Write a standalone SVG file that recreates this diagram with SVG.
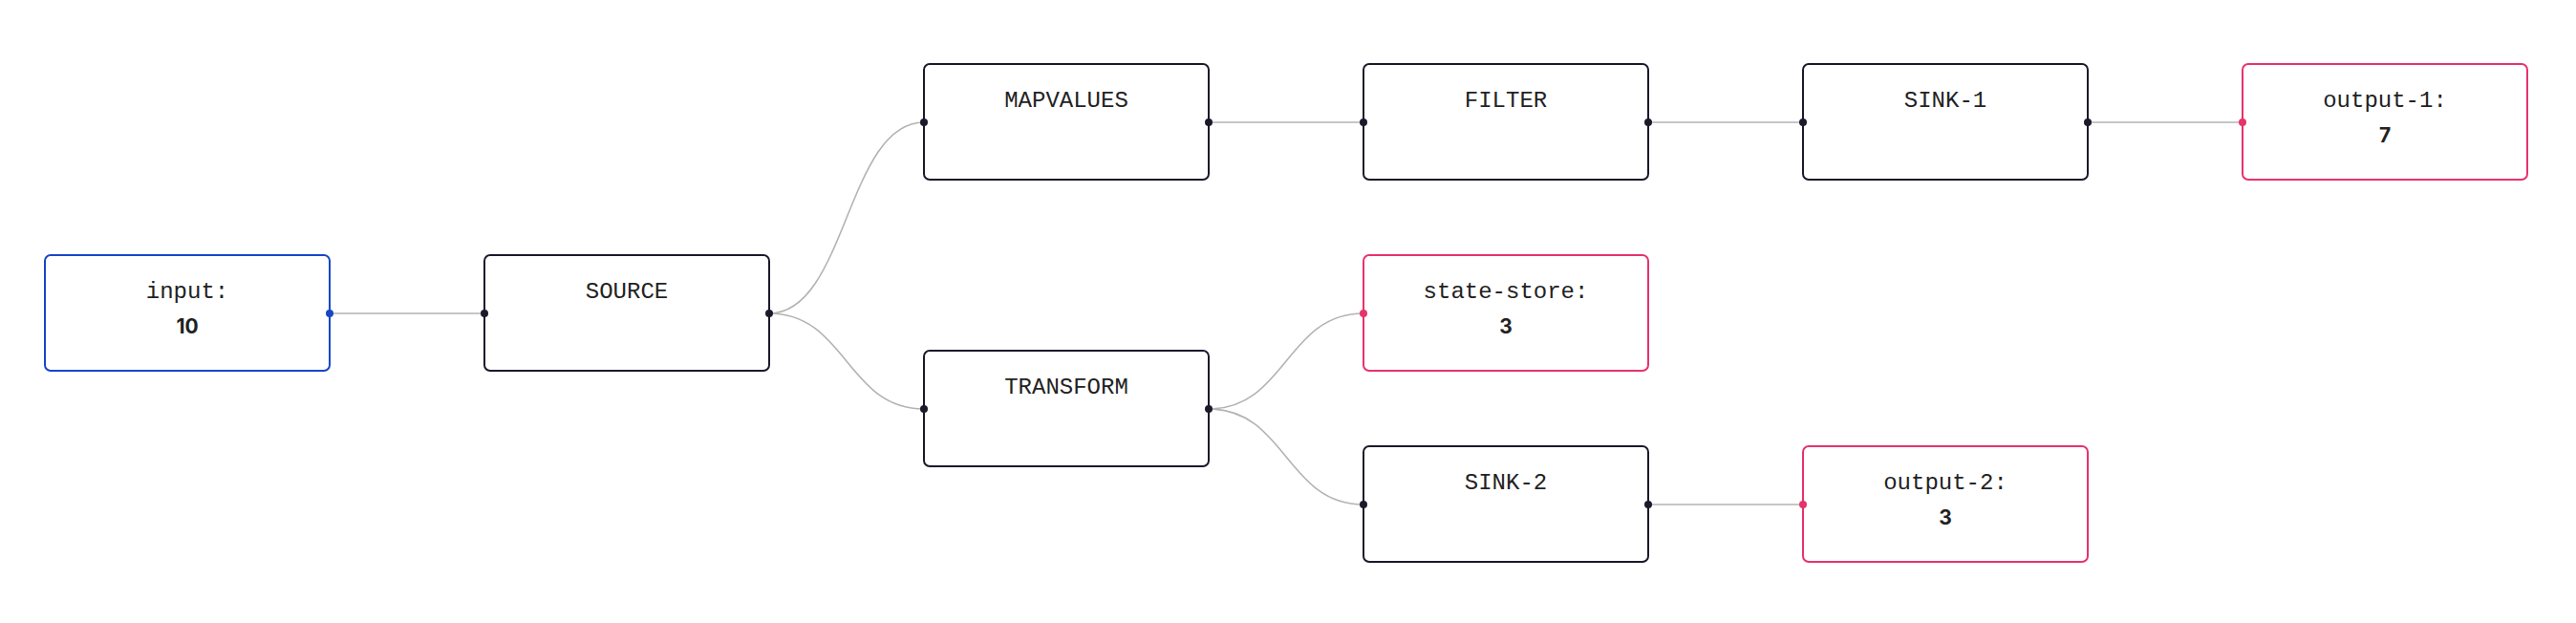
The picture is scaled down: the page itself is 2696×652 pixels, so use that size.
<svg xmlns="http://www.w3.org/2000/svg" width="2696" height="652" viewBox="0 0 2696 652">
<style>
.box{fill:#ffffff;stroke-width:2}
.proc{stroke:#1b1a2b}
.in{stroke:#1746c7}
.out{stroke:#e6336c}
.title{font-family:"Liberation Mono",monospace;font-size:24px;fill:#222222;text-anchor:middle}
.val{font-family:Inter,"Liberation Sans",sans-serif;font-size:21px;font-weight:700;fill:#222222;text-anchor:middle}
.edge{fill:none;stroke:#b3b3b3;stroke-width:1.6}
.pd{fill:#1b1a2b}
.pb{fill:#1746c7}
.pp{fill:#e6336c}
</style>
<rect width="2696" height="652" fill="#ffffff"/>
<g id="connectors">
<path class="edge" d="M345,328 L507,328"/>
<path class="edge" d="M805,328 C886,328 886,128 967,128"/>
<path class="edge" d="M805,328 C886,328 886,428 967,428"/>
<path class="edge" d="M1265,128 L1427,128"/>
<path class="edge" d="M1725,128 L1887,128"/>
<path class="edge" d="M2185,128 L2347,128"/>
<path class="edge" d="M1265,428 C1346,428 1346,328 1427,328"/>
<path class="edge" d="M1265,428 C1346,428 1346,528 1427,528"/>
<path class="edge" d="M1725,528 L1887,528"/>
</g>
<g id="input">
<rect class="box in" x="47" y="267" width="298" height="121" rx="6"/>
<text class="title" x="196" y="312">input:</text>
<text class="val" x="196" y="349">10</text>
<circle class="pb" cx="345" cy="328" r="4"/>
</g>
<g id="source">
<rect class="box proc" x="507" y="267" width="298" height="121" rx="6"/>
<text class="title" x="656" y="312">SOURCE</text>
<circle class="pd" cx="507" cy="328" r="4"/>
<circle class="pd" cx="805" cy="328" r="4"/>
</g>
<g id="mapvalues">
<rect class="box proc" x="967" y="67" width="298" height="121" rx="6"/>
<text class="title" x="1116" y="112">MAPVALUES</text>
<circle class="pd" cx="967" cy="128" r="4"/>
<circle class="pd" cx="1265" cy="128" r="4"/>
</g>
<g id="transform">
<rect class="box proc" x="967" y="367" width="298" height="121" rx="6"/>
<text class="title" x="1116" y="412">TRANSFORM</text>
<circle class="pd" cx="967" cy="428" r="4"/>
<circle class="pd" cx="1265" cy="428" r="4"/>
</g>
<g id="filter">
<rect class="box proc" x="1427" y="67" width="298" height="121" rx="6"/>
<text class="title" x="1576" y="112">FILTER</text>
<circle class="pd" cx="1427" cy="128" r="4"/>
<circle class="pd" cx="1725" cy="128" r="4"/>
</g>
<g id="state-store">
<rect class="box out" x="1427" y="267" width="298" height="121" rx="6"/>
<text class="title" x="1576" y="312">state-store:</text>
<text class="val" x="1576" y="349">3</text>
<circle class="pp" cx="1427" cy="328" r="4"/>
</g>
<g id="sink-2">
<rect class="box proc" x="1427" y="467" width="298" height="121" rx="6"/>
<text class="title" x="1576" y="512">SINK-2</text>
<circle class="pd" cx="1427" cy="528" r="4"/>
<circle class="pd" cx="1725" cy="528" r="4"/>
</g>
<g id="sink-1">
<rect class="box proc" x="1887" y="67" width="298" height="121" rx="6"/>
<text class="title" x="2036" y="112">SINK-1</text>
<circle class="pd" cx="1887" cy="128" r="4"/>
<circle class="pd" cx="2185" cy="128" r="4"/>
</g>
<g id="output-2">
<rect class="box out" x="1887" y="467" width="298" height="121" rx="6"/>
<text class="title" x="2036" y="512">output-2:</text>
<text class="val" x="2036" y="549">3</text>
<circle class="pp" cx="1887" cy="528" r="4"/>
</g>
<g id="output-1">
<rect class="box out" x="2347" y="67" width="298" height="121" rx="6"/>
<text class="title" x="2496" y="112">output-1:</text>
<text class="val" x="2496" y="149">7</text>
<circle class="pp" cx="2347" cy="128" r="4"/>
</g>
</svg>
